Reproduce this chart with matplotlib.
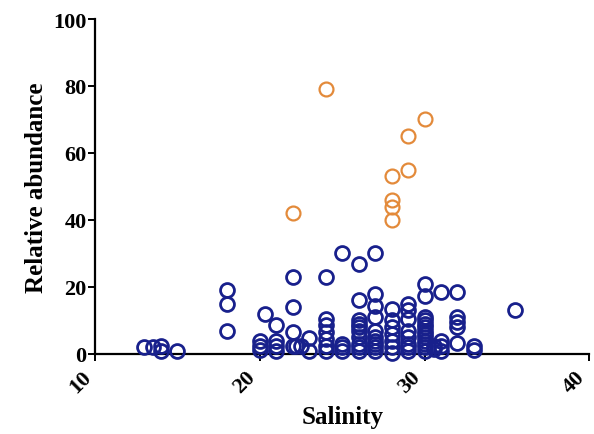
import numpy as np
import matplotlib.pyplot as plt

# Salinity vs relative abundance
# blue group
blue_x = [13, 13.5, 14, 14, 15,
          18, 18, 18,
          20, 20, 20, 20.3,
          21, 21, 21, 21,
          22, 22, 22, 22, 22.2, 22.5,
          23, 23,
          24, 24, 24, 24, 24, 24, 24,
          25, 25, 25, 25,
          26, 26, 26, 26, 26, 26, 26, 26, 26, 26,
          27, 27, 27, 27, 27, 27, 27, 27, 27, 27,
          28, 28, 28, 28, 28, 28, 28,
          29, 29, 29, 29, 29, 29, 29, 29,
          30, 30, 30, 30, 30, 30, 30, 30, 30, 30, 30, 30, 30,
          30.6, 30.6,
          31, 31, 31, 31,
          32, 32, 32, 32, 32,
          33, 33,
          35.5]
blue_y = [2.2, 2.2, 2.4, 1, 1,
          19, 15, 7,
          3.8, 2.5, 1.2, 12,
          8.5, 3.8, 2.5, 1,
          23, 14, 6.5, 2.5, 2.5, 2.5,
          4.7, 1,
          23, 10.4, 8.5, 6.5, 4.5, 2.5, 1,
          30, 3, 2, 1,
          27, 16, 10, 9, 8, 7, 5, 3, 2, 1,
          30, 18, 14.4, 11, 7, 5, 4, 3, 2, 1,
          13.4, 10, 8, 6, 4, 2, 0.3,
          15, 13, 10.4, 7, 5, 3, 2, 1,
          21, 17.4, 11, 10, 9, 8, 7, 6, 5, 4, 3, 2, 1,
          2.5, 1.5,
          18.4, 4, 2.5, 1,
          18.4, 11, 9.5, 8, 3.3,
          2.3, 1.3,
          13]

# orange group
orange_x = [24, 22, 30, 29, 29, 28, 28, 28, 28]
orange_y = [79, 42, 70, 65, 55, 53, 46, 44, 40]

x_ticks = [10, 20, 30, 40]
y_ticks = [0, 20, 40, 60, 80, 100]

plt.rcParams['font.family'] = ['Liberation Serif', 'DejaVu Serif']
plt.rcParams['font.weight'] = 'bold'

fig = plt.figure(figsize=(5.94, 4.35), dpi=100)
ax = fig.add_axes([0.16, 0.184, 0.832, 0.77])

ax.plot(blue_x, blue_y, 'o', mfc='none', mec='#18208c', ms=10, mew=2.0,
        clip_on=False, zorder=3)
ax.plot(orange_x, orange_y, 'o', mfc='none', mec='#e38a3a', ms=10, mew=1.6,
        clip_on=False, zorder=3)

ax.set_xlim(10, 40)
ax.set_ylim(0, 100)
ax.set_xticks(x_ticks)
ax.set_yticks(y_ticks)
ax.set_xticklabels([str(t) for t in x_ticks], rotation=45, ha='right',
                   va='top', fontsize=16, fontweight='bold')
ax.set_yticklabels([str(t) for t in y_ticks], fontsize=16, fontweight='bold')

for s in ['top', 'right']:
    ax.spines[s].set_visible(False)
for s in ['left', 'bottom']:
    ax.spines[s].set_linewidth(1.6)
ax.tick_params(direction='out', length=5, width=1.4, pad=1)
ax.tick_params(axis='x', pad=4)

ax.set_xlabel('Salinity', fontsize=18, fontweight='bold', labelpad=6)
ax.set_ylabel('Relative abundance', fontsize=18, fontweight='bold', labelpad=4)

fig.savefig('out.png', dpi=100)
